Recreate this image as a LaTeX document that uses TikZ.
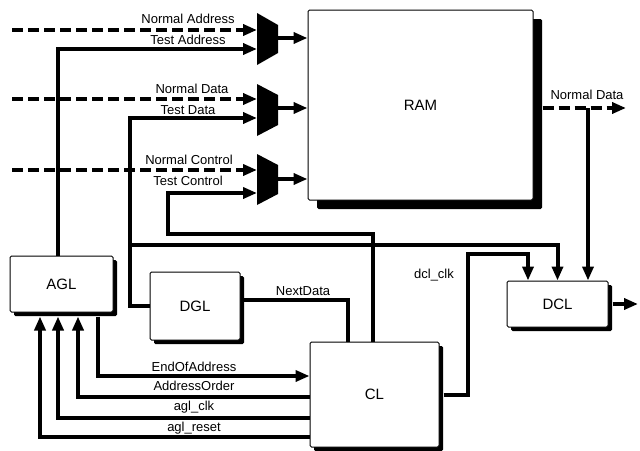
\documentclass[tikz,border=0pt]{standalone}
\usepackage{fontspec}
\setmainfont{Liberation Sans}
\usetikzlibrary{arrows.meta,calc}
\begin{document}
\begin{tikzpicture}[x=1pt,y=-1pt,
  blk/.style={draw=black,line width=1pt,fill=white,rounded corners=1.5pt,inner sep=0pt,
    font=\fontsize{15}{17}\selectfont,
    preaction={fill=black,transform canvas={shift={(#1,-#1)}}}},
  blk/.default=4pt,
  wire/.style={line width=4pt},
  bus/.style={line width=4pt,dash pattern=on 11pt off 5pt},
  tip/.style={-{Triangle[length=14pt,width=11pt]}},
  lbl/.style={font=\fontsize{13}{15}\selectfont,inner sep=0pt},
  muxfill/.style={fill=black}]
\fill[white] (0,0) rectangle (640,450);
\useasboundingbox (0,0) rectangle (640,450);

% blocks
\node[blk=9pt,minimum width=225pt,minimum height=190pt] (ram) at (420.5,105) {RAM};
\node[blk,minimum width=103pt,minimum height=56pt] (agl) at (61.5,284) {AGL};
\node[blk,minimum width=90pt,minimum height=68pt] (dgl) at (195,306) {DGL};
\node[blk,minimum width=129pt,minimum height=105pt] (cl) at (374.5,394.5) {CL};
\node[blk,minimum width=101pt,minimum height=46pt] (dcl) at (557.5,304) {DCL};

% multiplexers
\fill[muxfill] (257,13) -- (278,25) -- (278,53) -- (257,65) -- cycle;
\fill[muxfill] (257,84) -- (278,95) -- (278,125) -- (257,136) -- cycle;
\fill[muxfill] (257,154) -- (278,165) -- (278,194) -- (257,205) -- cycle;
\coordinate (m1a) at (257,30);  \coordinate (m1b) at (257,49);  \coordinate (m1o) at (278,38);
\coordinate (m2a) at (257,99);  \coordinate (m2b) at (257,118); \coordinate (m2o) at (278,108);
\coordinate (m3a) at (257,170); \coordinate (m3b) at (257,193); \coordinate (m3o) at (278,179);

% mux outputs into RAM
\draw[wire,tip] (m1o) -- (m1o -| ram.west);
\draw[wire,tip] (m2o) -- (m2o -| ram.west);
\draw[wire,tip] (m3o) -- (m3o -| ram.west);

% normal (dashed) inputs
\coordinate (na) at (12,30);
\coordinate (nd) at (12,99);
\coordinate (nc) at (12,170);
\draw[bus,tip] (na) -- (m1a);
\draw[bus,tip] (nd) -- (m2a);
\draw[bus,tip] (nc) -- (m3a);

% test address
\coordinate (taX) at (58,49);
\draw[wire,tip] (taX |- agl.north) -- (taX) -- (m1b);

% test data
\coordinate (tdX) at (130,118);
\draw[wire,tip] (dgl.west) -- (dgl.west -| tdX) -- (tdX) -- (m2b);
\coordinate (brA) at (130,245);
\draw[wire,tip] (brA) -- (brA -| dcl.north) -- (dcl.north);

% test control
\coordinate (tcX) at (168,193);
\coordinate (tcY) at (373,234);
\draw[wire,tip] (tcY |- cl.north) -- (tcY) -- (tcY -| tcX) -- (tcX) -- (m3b);

% NextData
\coordinate (ndX) at (348,300);
\draw[wire] (dgl.east |- ndX) -- (ndX) -- (ndX |- cl.north);

% RAM normal data out
\coordinate (rdo) at (626,108);
\coordinate (rdb) at (588,108);
\draw[bus,tip] ([xshift=9pt]ram.east |- rdo) -- (rdo);
\draw[wire,tip] (rdb) -- (rdb |- dcl.north);

% dcl_clk
\coordinate (ck1) at (468,395);
\coordinate (ck2) at (528,254);
\draw[wire,tip] ([xshift=4pt]cl.east |- ck1) -- (ck1) -- (ck1 |- ck2) -- (ck2) -- (ck2 |- dcl.north);

% DCL output
\coordinate (dout) at (638,304);
\draw[wire,tip] ([xshift=4pt]dcl.east) -- (dout);

% AGL <-> CL
\coordinate (aglb) at ($(agl.south)+(0,4)$);
\coordinate (eoa) at (98,376);
\coordinate (ao) at (78,397);
\coordinate (ac) at (58,418);
\coordinate (ar) at (40,437);
\draw[wire,tip] (eoa |- aglb) -- (eoa) -- (eoa -| cl.west);
\draw[wire,tip] (ao -| cl.west) -- (ao) -- (ao |- aglb);
\draw[wire,tip] (ac -| cl.west) -- (ac) -- (ac |- aglb);
\draw[wire,tip] (ar -| cl.west) -- (ar) -- (ar |- aglb);

% labels
\node[lbl] (lNA) at (188,19) {Normal Address};
\node[lbl] (lTA) at (188,40) {Test Address};
\node[lbl] (lND) at (192,89) {Normal Data};
\node[lbl] (lTD) at (188,110) {Test Data};
\node[lbl] (lNC) at (189,160) {Normal Control};
\node[lbl] (lTC) at (188,181) {Test Control};
\node[lbl] (lRD) at (587,95) {Normal Data};
\node[lbl] (lNX) at (303,291) {NextData};
\node[lbl] (lCK) at (434,275) {dcl\_clk};
\node[lbl] (lEA) at (194,367) {EndOfAddress};
\node[lbl] (lAO) at (194,386) {AddressOrder};
\node[lbl] (lAC) at (194,407) {agl\_clk};
\node[lbl] (lAR) at (194,428) {agl\_reset};
\end{tikzpicture}
\end{document}
